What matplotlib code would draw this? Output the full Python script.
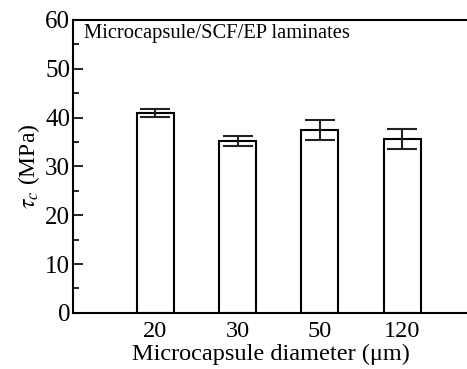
import matplotlib.pyplot as plt
from matplotlib.ticker import MultipleLocator

diameters = ["20", "30", "50", "120"]
tau_c = [41.0, 35.2, 37.5, 35.6]
tau_err = [0.85, 1.0, 2.0, 2.0]

plt.rcParams["font.family"] = ["Liberation Serif", "DejaVu Serif"]
plt.rcParams["mathtext.fontset"] = "stix"

fig = plt.figure(figsize=(4.67, 3.69), dpi=100)
ax = fig.add_axes([0.156, 0.152, 0.850, 0.794])

x = range(1, len(diameters) + 1)
ax.bar(x, tau_c, width=0.45, color="white", edgecolor="black", linewidth=1.5,
       yerr=tau_err, capsize=11,
       error_kw=dict(elinewidth=1.5, capthick=1.5, ecolor="#222222"))

ax.set_xlim(0, 4.82)
ax.set_ylim(0, 60)
ax.set_xticks(list(x))
ax.set_xticklabels(diameters)
ax.yaxis.set_major_locator(MultipleLocator(10))
ax.yaxis.set_minor_locator(MultipleLocator(5))
ax.tick_params(axis="y", which="major", direction="in", length=7, width=1.2,
               labelsize=18, pad=2)
ax.tick_params(axis="y", which="minor", direction="in", length=4, width=1.2)
ax.tick_params(axis="x", length=0, labelsize=17.5, pad=6)
ax.spines["right"].set_visible(False)
for s in ("left", "top", "bottom"):
    ax.spines[s].set_linewidth(1.5)

ax.set_xlabel("Microcapsule diameter (\u03bcm)", fontsize=17.5, labelpad=1)
ax.set_ylabel(r"$\tau_c$ (MPa)", fontsize=17, labelpad=2)
ax.text(0.028, 0.985, "Microcapsule/SCF/EP laminates", transform=ax.transAxes,
        fontsize=14.8, va="top", ha="left")

fig.savefig("out.png", dpi=100)
